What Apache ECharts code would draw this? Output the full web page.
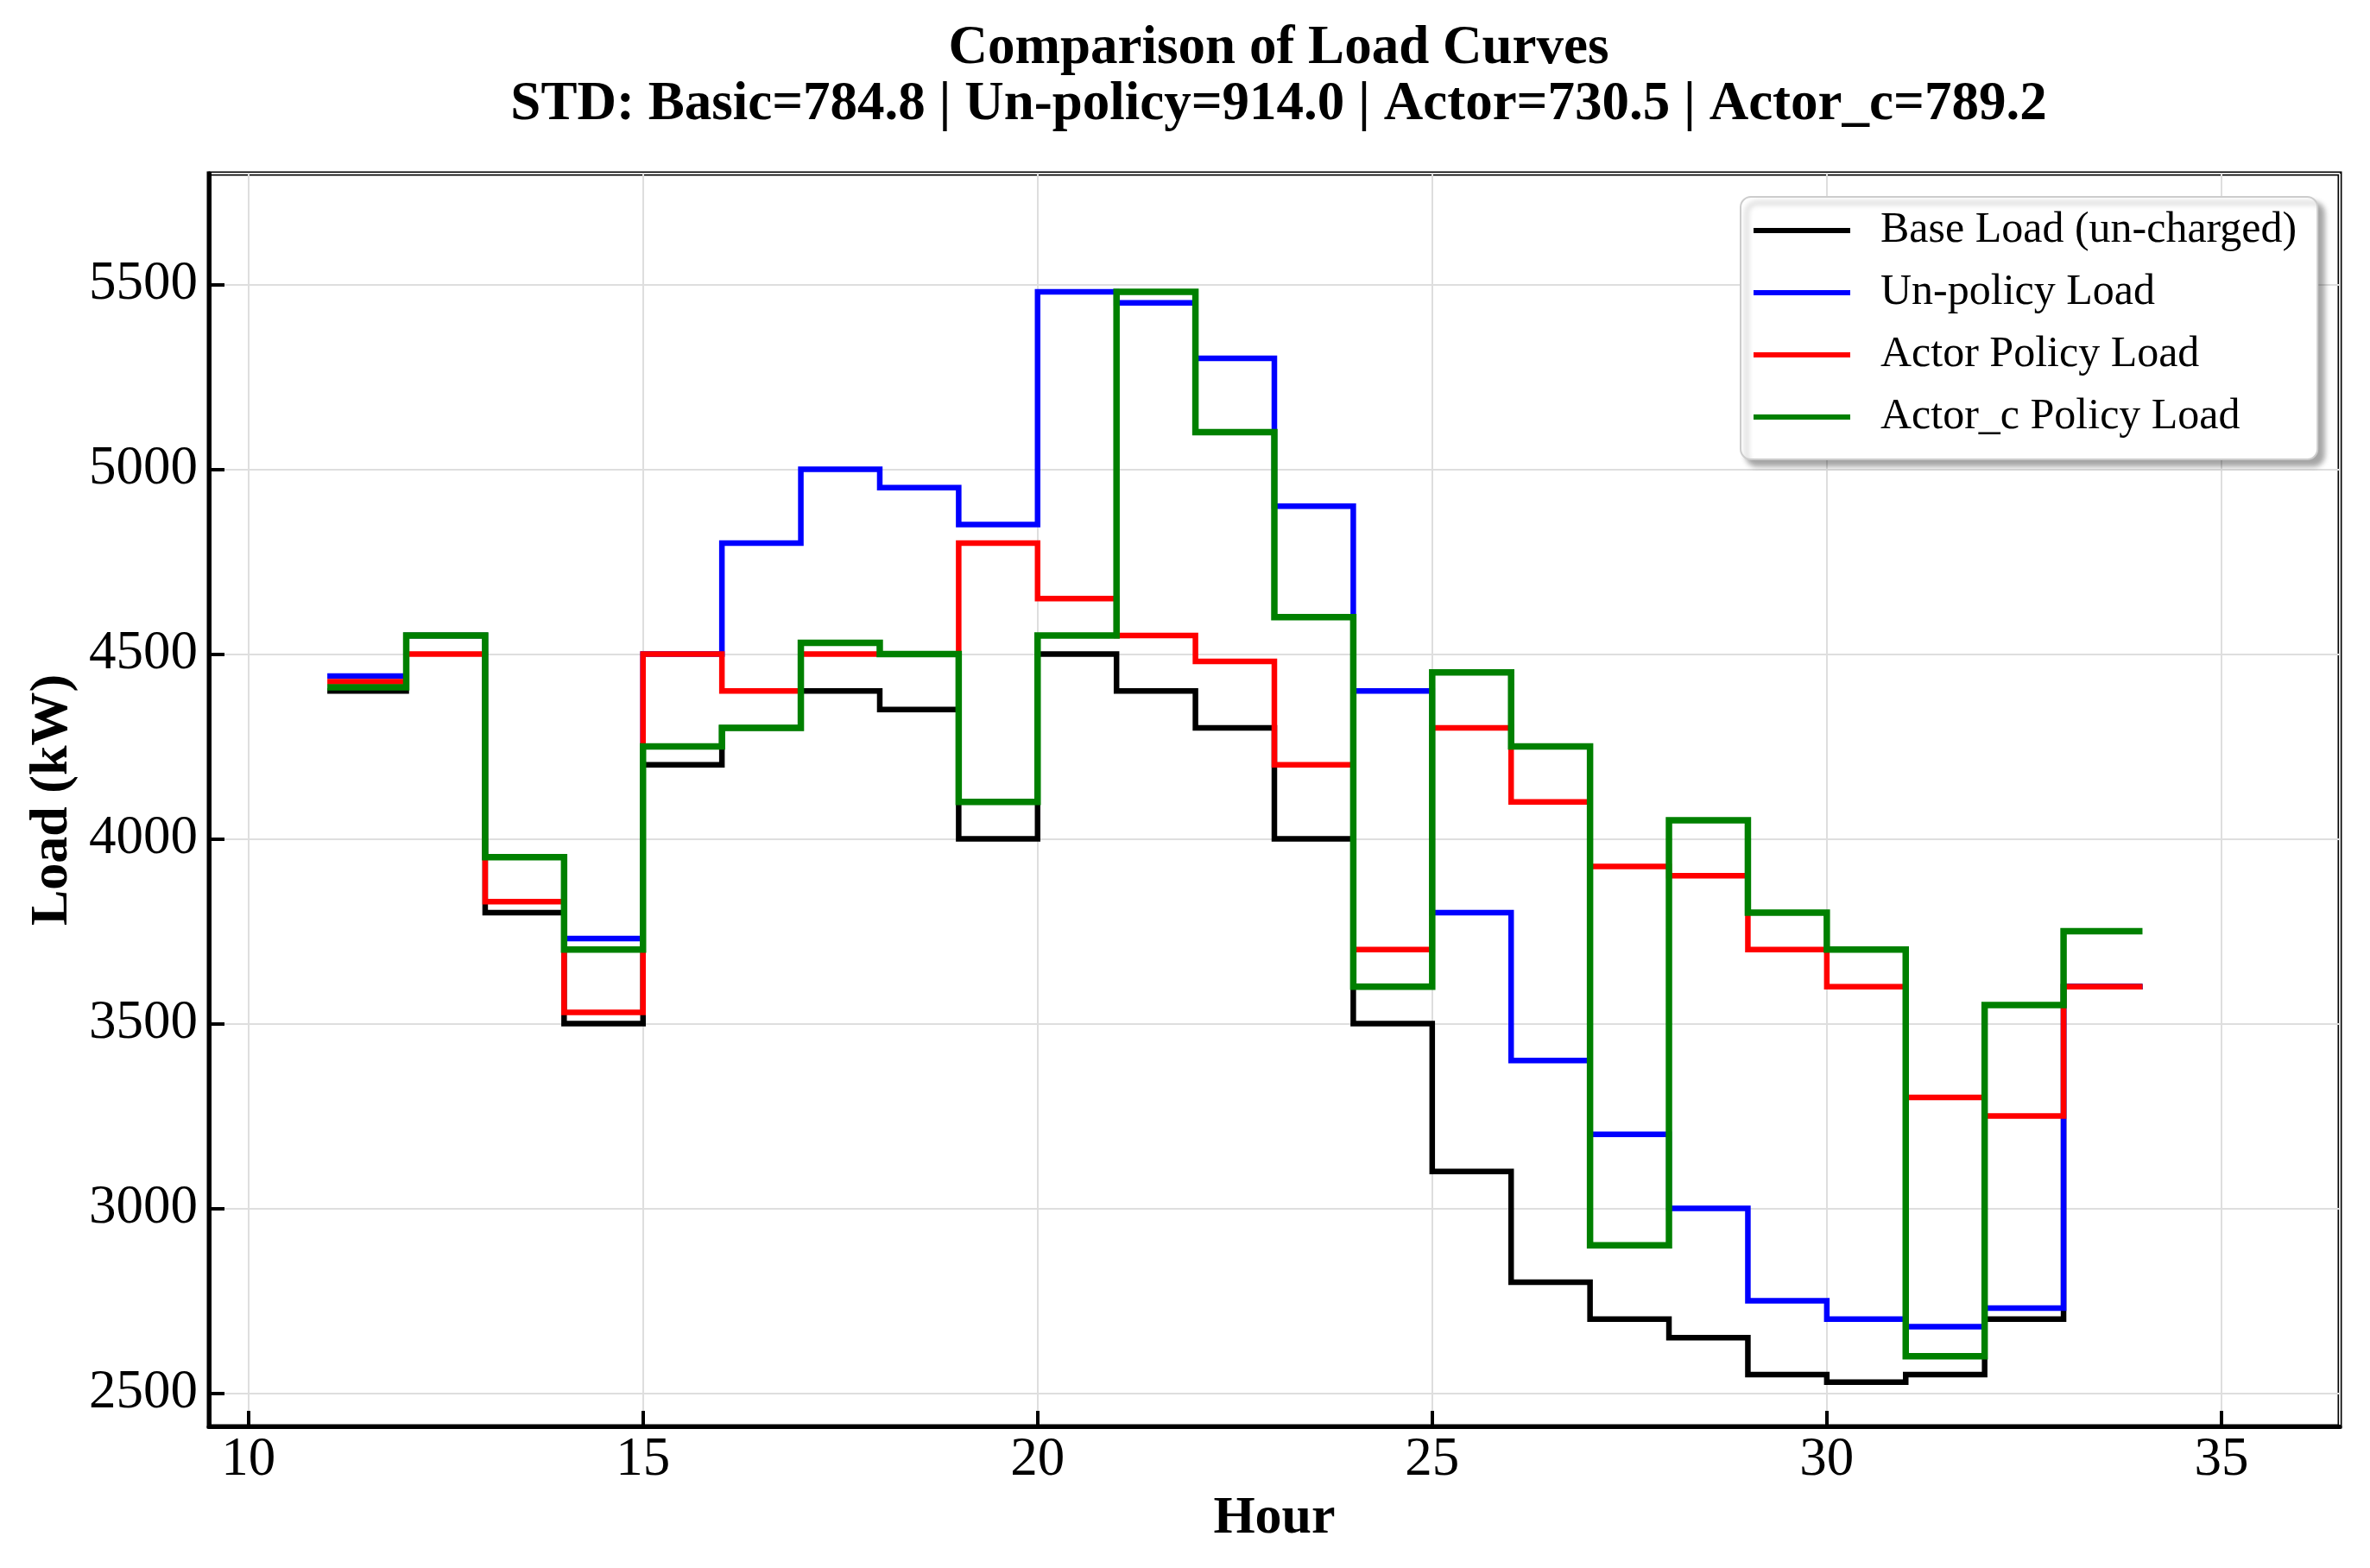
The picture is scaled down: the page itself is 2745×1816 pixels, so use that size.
<!DOCTYPE html>
<html>
<head>
<meta charset="utf-8">
<script src="https://cdn.jsdelivr.net/npm/echarts@6/dist/echarts.min.js"></script>
<style>
html,body{margin:0;padding:0;background:#fff;}
#chart{width:2745px;height:1816px;}
</style>
</head>
<body>
<div id="chart"></div>
<script>
// ---- data ----
const hours = [11,12,13,14,15,16,17,18,19,20,21,22,23,24,25,26,27,28,29,30,31,32,33,34];
const baseLoad   = [4400,4550,3800,3500,4200,4300,4400,4350,4000,4500,4400,4300,4000,3500,3100,2800,2700,2650,2550,2530,2550,2700,3600,3600];
const unpolicy   = [4440,4550,3950,3730,4500,4800,5000,4950,4850,5480,5450,5300,4900,4400,3800,3400,3200,3000,2750,2700,2680,2730,3600,3600];
const actorLoad  = [4425,4500,3830,3530,4500,4400,4500,4500,4800,4650,4550,4480,4200,3700,4300,4100,3925,3900,3700,3600,3300,3250,3600,3600];
const actorCLoad = [4410,4550,3950,3700,4250,4300,4530,4500,4100,4550,5480,5100,4600,3600,4450,4250,2900,4050,3800,3700,2600,3550,3750,3750];
const seriesNames = ['Base Load (un-charged)','Un-policy Load','Actor Policy Load','Actor_c Policy Load'];
const titleText = 'Comparison of Load Curves';
const subText = 'STD: Basic=784.8 | Un-policy=914.0 | Actor=730.5 | Actor_c=789.2';

const FONT = 'Liberation Serif, Times New Roman, serif';
function pairs(vals){ return hours.map((h,i)=>[h, vals[i]]); }

const chart = echarts.init(document.getElementById('chart'), null, {renderer:'canvas'});
const mk = (name, vals, color, width) => ({
  name, type:'line', step:'end', data: pairs(vals), symbol:'none',
  lineStyle:{color, width, join:'miter', cap:'butt'}, itemStyle:{color}, animation:false
});
chart.setOption({
  backgroundColor:'#fff',
  animation:false,
  title:{
    text:titleText, subtext:subText,
    left:1476, top:20, textAlign:'center', itemGap:2,
    textStyle:{fontFamily:FONT, fontWeight:'bold', fontSize:63, color:'#000', lineHeight:63},
    subtextStyle:{fontFamily:FONT, fontWeight:'bold', fontSize:63, color:'#000', lineHeight:63}
  },
  grid:{left:242, right:35, top:201, bottom:164, show:true, borderColor:'#000', borderWidth:5, backgroundColor:'transparent'},
  legend:{
    orient:'vertical', left:2016, top:228,
    padding:[14,24,24,15], itemGap:22, itemWidth:112, itemHeight:6, icon:'rect',
    backgroundColor:'#fff', borderColor:'#cccccc', borderWidth:2, borderRadius:12,
    shadowColor:'rgba(0,0,0,0.35)', shadowBlur:6, shadowOffsetX:7, shadowOffsetY:7,
    textStyle:{fontFamily:FONT, fontSize:50, lineHeight:50, color:'#000', padding:[0,0,0,30]},
    data:seriesNames
  },
  xAxis:{
    type:'value', min:9.5, max:36.5, minInterval:5, maxInterval:5,
    name:'Hour', nameLocation:'middle', nameGap:73,
    nameTextStyle:{fontFamily:FONT, fontWeight:'bold', fontSize:62, color:'#000'},
    axisLine:{show:true, lineStyle:{color:'#000', width:5}},
    axisTick:{show:true, inside:true, length:18, lineStyle:{color:'#000', width:4}},
    axisLabel:{fontFamily:FONT, fontSize:63, color:'#000', margin:8, showMinLabel:false, showMaxLabel:false,
      formatter:(v)=>String(v)},
    splitLine:{show:true, lineStyle:{color:'#dedede', width:2}}
  },
  yAxis:{
    type:'value', min:2410, max:5800, minInterval:500, maxInterval:500,
    name:'Load (kW)', nameLocation:'middle', nameGap:143, nameRotate:90,
    nameTextStyle:{fontFamily:FONT, fontWeight:'bold', fontSize:62, color:'#000'},
    axisLine:{show:true, lineStyle:{color:'#000', width:5}},
    axisTick:{show:true, inside:true, length:18, lineStyle:{color:'#000', width:4}},
    axisLabel:{fontFamily:FONT, fontSize:63, color:'#000', margin:13, showMinLabel:false, showMaxLabel:false,
      formatter:(v)=>String(v)},
    splitLine:{show:true, lineStyle:{color:'#dedede', width:2}}
  },
  series:[
    mk(seriesNames[0], baseLoad, '#000000', 6.5),
    mk(seriesNames[1], unpolicy, '#0000ff', 6.5),
    mk(seriesNames[2], actorLoad, '#ff0000', 6.5),
    mk(seriesNames[3], actorCLoad, '#008000', 7.5)
  ]
});
</script>
</body>
</html>
